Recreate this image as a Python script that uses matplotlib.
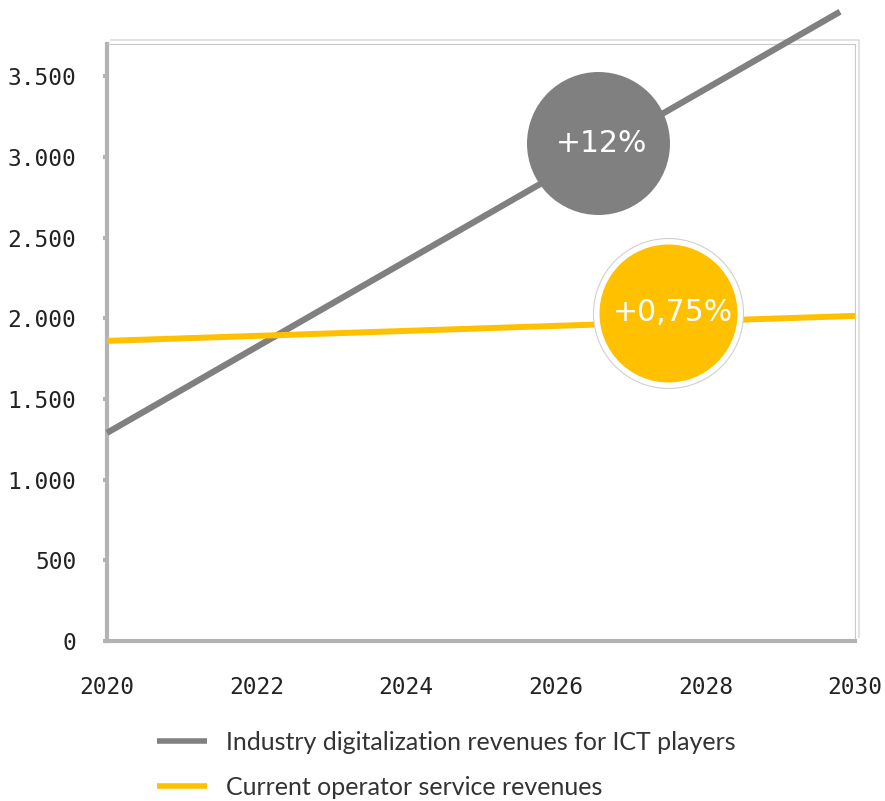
import numpy as np
import matplotlib.pyplot as plt
import matplotlib.transforms as mtransforms

# --- series ---
years_ict = [2020, 2029.8]
ict_revenue = [1290, 3900]
years_op = [2020, 2030]
op_revenue = [1860, 2015]

yticks = [0, 500, 1000, 1500, 2000, 2500, 3000, 3500]
ytick_labels = ["0", "500", "1.000", "1.500", "2.000", "2.500", "3.000", "3.500"]
xticks = [2020, 2022, 2024, 2026, 2028, 2030]

# growth badges: (x, y, text)
badge_ict = (2026.56, 3085, "+12%")
badge_op = (2027.5, 2035, "+0,75%")

GRAY = "#808080"
YELLOW = "#FFC000"
AXIS_GRAY = "#b3b3b3"

fig = plt.figure(figsize=(8.85, 8.01), dpi=100)
ax = fig.add_axes([107 / 885, 160 / 801, 748 / 885, 597 / 801])

ax.plot(years_ict, ict_revenue, color=GRAY, lw=4.5, clip_on=False, zorder=3,
        solid_capstyle="butt", label="Industry digitalization revenues for ICT players")
ax.plot(years_op, op_revenue, color=YELLOW, lw=4.3, zorder=4, solid_capstyle="butt",
        label="Current operator service revenues")

# badges
ax.scatter([badge_ict[0]], [badge_ict[1]], s=(2 * 71.5 * 0.72) ** 2, color=GRAY,
           zorder=5, clip_on=False, linewidths=0)
ax.text(badge_ict[0] + 0.05, badge_ict[1], badge_ict[2], color="white", fontsize=21.5,
        ha="center", va="center", zorder=6)
ax.scatter([badge_op[0]], [badge_op[1]], s=(2 * 75 * 0.72) ** 2, color="white",
           edgecolors="#d0d0d0", linewidths=0.8, zorder=5, clip_on=False)
ax.scatter([badge_op[0]], [badge_op[1]], s=(2 * 69 * 0.72) ** 2, color=YELLOW,
           zorder=6, clip_on=False, linewidths=0)
ax.text(badge_op[0] + 0.07, badge_op[1], badge_op[2], color="white", fontsize=21.5,
        ha="center", va="center", zorder=7)

ax.set_xlim(2020, 2030)
ax.set_ylim(0, 3700)
ax.set_yticks(yticks)
ax.set_yticklabels(ytick_labels)
ax.set_xticks(xticks)

for side in ["left", "bottom"]:
    ax.spines[side].set_color(AXIS_GRAY)
    ax.spines[side].set_linewidth(3)
for side in ["top", "right"]:
    ax.spines[side].set_color("#c8c8c8")
    ax.spines[side].set_linewidth(0.8)

# second, outer frame line on top and right
off = mtransforms.offset_copy(ax.transAxes, fig=fig, x=4, y=4, units="dots")
ax.plot([0, 1, 1], [1, 1, 0], color="#dcdcdc", lw=1.2, transform=off, clip_on=False)

ax.tick_params(axis="y", length=3, width=3, color=AXIS_GRAY, pad=19,
               labelsize=16.5, labelcolor="#222222")
ax.tick_params(axis="x", length=0, pad=25, labelsize=16.5, labelcolor="#222222")
for lab in ax.get_xticklabels() + ax.get_yticklabels():
    lab.set_family("DejaVu Sans Mono")

leg = fig.legend(loc="upper left", bbox_to_anchor=(144 / 885, 1 - 718 / 801),
                 frameon=False, borderpad=0, handlelength=2.0, handletextpad=0.8,
                 labelspacing=0.9, prop={"family": "Lato", "size": 18})
for h in leg.get_lines():
    h.set_linewidth(4)
for t in leg.get_texts():
    t.set_color("#333333")

fig.savefig("out.png", dpi=100)
